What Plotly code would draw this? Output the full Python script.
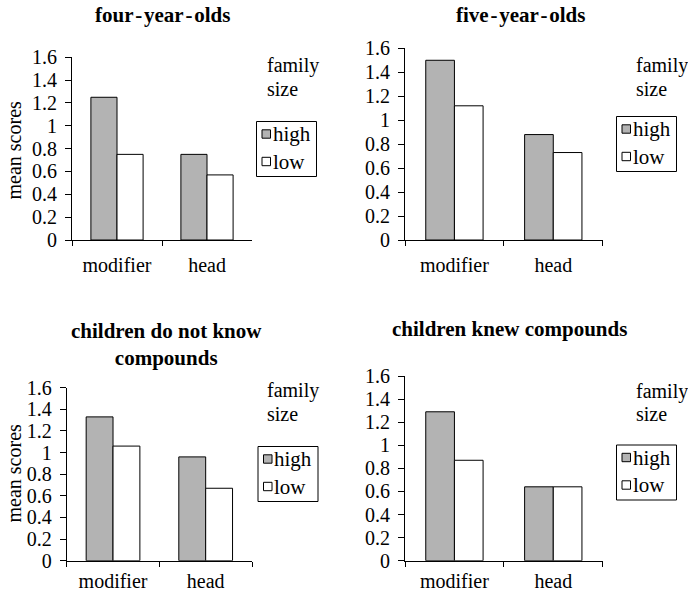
import plotly.graph_objects as go

# ---------------- data ----------------
categories = ["modifier", "head"]
series_names = ["high", "low"]
legend_title = ["family", "size"]
y_axis_title = "mean scores"
y_tick_values = [0, 0.2, 0.4, 0.6, 0.8, 1.0, 1.2, 1.4, 1.6]
y_tick_labels = ["0", "0.2", "0.4", "0.6", "0.8", "1", "1.2", "1.4", "1.6"]

HS = "\u200a"  # hair space, as in the reference's spaced hyphens
titles = ["four" + HS + "-" + HS + "year" + HS + "-" + HS + "olds",
          "five" + HS + "-" + HS + "year" + HS + "-" + HS + "olds",
          "children do not know<br>compounds",
          "children knew compounds"]

four_year_high = [1.25, 0.75]
four_year_low = [0.75, 0.57]
five_year_high = [1.50, 0.88]
five_year_low = [1.12, 0.73]
not_know_high = [1.33, 0.96]
not_know_low = [1.06, 0.67]
knew_high = [1.29, 0.64]
knew_low = [0.87, 0.64]

panel_high = [four_year_high, five_year_high, not_know_high, knew_high]
panel_low = [four_year_low, five_year_low, not_know_low, knew_low]

# ---------------- layout geometry (pixels) ----------------
W, H = 688, 598
FONT = "Liberation Serif"
HIGH_COLOR = "#b3b3b3"
LOW_COLOR = "#ffffff"

def px_x(x):
    return x / W

def px_y(y):
    return 1 - y / H

# plot areas: (left, right, top, bottom) in px
areas = [
    (72, 252, 57.3, 240),
    (405, 602.7, 48.3, 240),
    (66.7, 252, 387.7, 560.7),
    (405, 602.7, 376, 560.7),
]
x_label_standoff = [7, 7, 2, 2]
# titles: (center x, center y)
title_pos = [(162.5, 15), (520.7, 15), (166, 345), (509.5, 329)]
# legend boxes: (left, top)
legend_pos = [(256.5, 121.5), (616.5, 116.5), (258, 446.5), (616.5, 445)]
# "family size" text: (left x, family y, size y)
fam_pos = [(264.5, 65, 89), (633.5, 65, 89), (264.5, 390, 414), (633.5, 391, 414)]

fig = go.Figure()
layout = dict(
    template="none",
    width=W, height=H, autosize=False,
    margin=dict(l=0, r=0, t=0, b=0, pad=0),
    paper_bgcolor="white", plot_bgcolor="white",
    showlegend=False,
    barmode="group", bargap=0.42, bargroupgap=0,
    font=dict(family=FONT, size=20, color="black"),
)
annotations = []
shapes = []

for i in range(4):
    xa = "x" if i == 0 else f"x{i+1}"
    ya = "y" if i == 0 else f"y{i+1}"
    for name, vals, col in [(series_names[0], panel_high[i], HIGH_COLOR),
                            (series_names[1], panel_low[i], LOW_COLOR)]:
        fig.add_trace(go.Bar(
            x=categories, y=vals, name=name, xaxis=xa, yaxis=ya,
            marker=dict(color=col, line=dict(color="black", width=1)),
            showlegend=False, hoverinfo="skip",
        ))
    l, r, t, b = areas[i]
    key = "" if i == 0 else str(i + 1)
    layout["xaxis" + key] = dict(
        domain=[px_x(l), px_x(r)], anchor=ya, type="category",
        showline=True, linecolor="black", linewidth=1,
        ticks="outside", tickson="boundaries", ticklen=5, tickcolor="black",
        tickwidth=1, ticklabelstandoff=x_label_standoff[i],
        showgrid=False, zeroline=False, tickfont=dict(size=20),
        fixedrange=True, automargin=False,
    )
    layout["yaxis" + key] = dict(
        domain=[px_y(b), px_y(t)], anchor=xa, range=[0, 1.6],
        tickvals=y_tick_values, ticktext=y_tick_labels,
        showline=True, linecolor="black", linewidth=1,
        ticks="outside", ticklen=6, tickcolor="black", tickwidth=1,
        ticklabelstandoff=4,
        showgrid=False, zeroline=False, tickfont=dict(size=20),
        fixedrange=True, automargin=False,
    )
    # title
    tx, ty = title_pos[i]
    annotations.append(dict(
        x=px_x(tx), y=px_y(ty), xref="paper", yref="paper",
        text="<b>" + titles[i] + "</b>", showarrow=False,
        xanchor="center", yanchor="middle",
        font=dict(size=21, family=FONT), align="center",
    ))
    # family size
    fx, fy1, fy2 = fam_pos[i]
    for txt, fy in [(legend_title[0], fy1), (legend_title[1], fy2)]:
        annotations.append(dict(
            x=px_x(fx), y=px_y(fy), xref="paper", yref="paper",
            text=txt, showarrow=False, xanchor="left", yanchor="middle",
            font=dict(size=20, family=FONT),
        ))
    # legend box
    lx, ly = legend_pos[i]
    shapes.append(dict(type="rect", xref="paper", yref="paper",
                       x0=px_x(lx), x1=px_x(lx + 60), y0=px_y(ly), y1=px_y(ly + 55),
                       line=dict(color="black", width=1), fillcolor="white"))
    for j, (name, col) in enumerate([(series_names[0], HIGH_COLOR),
                                     (series_names[1], LOW_COLOR)]):
        cy = ly + 12.5 + j * 27.5
        shapes.append(dict(type="rect", xref="paper", yref="paper",
                           x0=px_x(lx + 5.5), x1=px_x(lx + 14),
                           y0=px_y(cy - 4.2), y1=px_y(cy + 4.2),
                           line=dict(color="black", width=1), fillcolor=col))
        annotations.append(dict(
            x=px_x(lx + 14), y=px_y(cy), xref="paper", yref="paper",
            text=name, showarrow=False, xanchor="left", yanchor="middle",
            font=dict(size=21, family=FONT),
        ))

# y-axis titles on left panels
for cy in [150, 473]:
    annotations.append(dict(
        x=px_x(13.5), y=px_y(cy), xref="paper", yref="paper",
        text=y_axis_title, showarrow=False, textangle=-90,
        xanchor="center", yanchor="middle", font=dict(size=20, family=FONT),
    ))

layout["annotations"] = annotations
layout["shapes"] = shapes
fig.update_layout(**layout)
fig.write_html("out.html",
               config={"displayModeBar": False, "staticPlot": True},
               post_script="document.body.style.margin='0';"
                           "document.body.style.overflow='hidden';")
